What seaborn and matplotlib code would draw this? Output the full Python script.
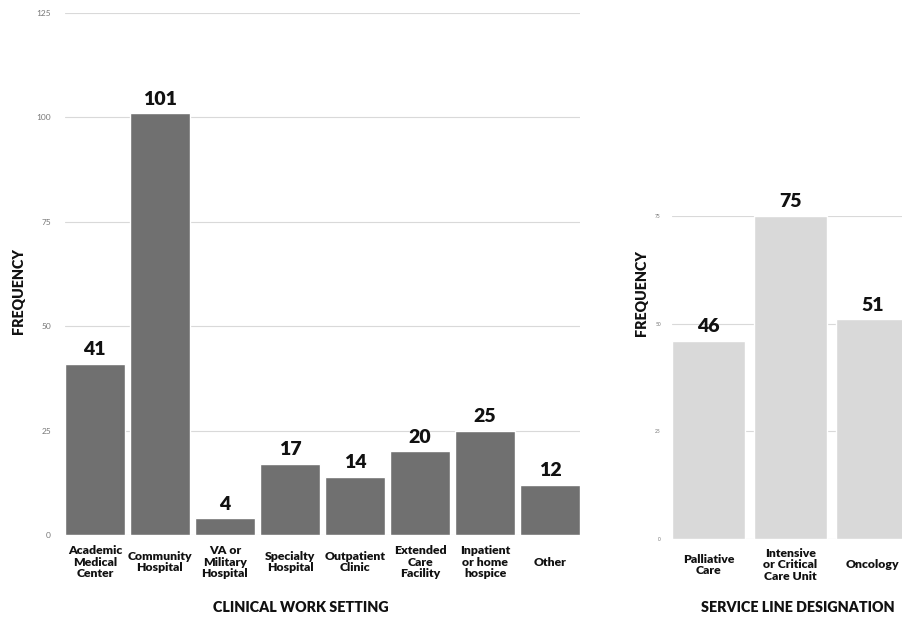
import matplotlib
matplotlib.use("Agg")
import matplotlib.pyplot as plt
import seaborn as sns
import pandas as pd

settings = ["Academic\nMedical\nCenter", "Community\nHospital", "VA or\nMilitary\nHospital",
            "Specialty\nHospital", "Outpatient\nClinic", "Extended\nCare\nFacility",
            "Inpatient\nor home\nhospice", "Other"]
setting_counts = [41, 101, 4, 17, 14, 20, 25, 12]

services = ["Palliative\nCare", "Intensive\nor Critical\nCare Unit", "Oncology"]
service_counts = [46, 75, 51]

left_ticks = [0, 25, 50, 75, 100, 125]
right_ticks = [0, 25, 50, 75]

sns.set_theme(style="white")
plt.rcParams['font.family'] = ['Lato', 'DejaVu Sans']
cond = ['Lato', 'DejaVu Sans']

fig = plt.figure(figsize=(9.02, 6.19), dpi=100)
ax1 = fig.add_axes([0.072, 0.1357, 0.571, 0.8434])
ax2 = fig.add_axes([0.745, 0.129, 0.255, 0.522])

df1 = pd.DataFrame({"setting": settings, "count": setting_counts})
df2 = pd.DataFrame({"service": services, "count": service_counts})

sns.barplot(data=df1, x="setting", y="count", color="#707070", saturation=1, width=0.92, ax=ax1, zorder=3)
sns.barplot(data=df2, x="service", y="count", color="#d9d9d9", saturation=1, width=0.89, ax=ax2, zorder=3)

for ax, ticks, xl, ylim, tfs, xpad in [(ax1, left_ticks, (-0.46, 7.46), (0, 125), 6, 19.5),
                                       (ax2, right_ticks, (-0.445, 2.36), (0, 75), 3.5, 18.5)]:
    ax.set_xlim(*xl)
    ax.set_ylim(*ylim)
    ax.set_yticks(ticks)
    ax.set_yticklabels([str(t) for t in ticks], fontsize=tfs, color="#777777")
    ax.grid(axis="y", color="#d9d9d9", linewidth=0.8, zorder=0)
    ax.grid(axis="x", visible=False)
    for s in ax.spines.values():
        s.set_visible(False)
    ax.tick_params(axis="y", length=0, pad=10 if ax is ax1 else 8)
    ax.tick_params(axis="x", length=0, pad=xpad)
    ax.set_xlabel("")
    ax.set_ylabel("")
    for lab in ax.get_xticklabels():
        lab.set_fontsize(8.8)
        lab.set_fontweight("heavy")
        lab.set_color("#111111")
        lab.set_linespacing(1.05)
        lab.set_verticalalignment("center")
    for c in ax.containers:
        ax.bar_label(c, labels=[str(int(v)) for v in c.datavalues], padding=4,
                     fontsize=14, fontweight="heavy", color="#111111", clip_on=False)

fig.text(0.021, 0.530, "FREQUENCY", rotation=90, ha="center", va="center",
         fontsize=10.3, fontweight="heavy", family=cond, color="#111111")
fig.text(0.711, 0.527, "FREQUENCY", rotation=90, ha="center", va="center",
         fontsize=10.3, fontweight="heavy", family=cond, color="#111111")
fig.text(0.333, 0.019, "CLINICAL WORK SETTING", ha="center", va="center",
         fontsize=10.3, fontweight="heavy", family=cond, color="#111111")
fig.text(0.8847, 0.019, "SERVICE LINE DESIGNATION", ha="center", va="center",
         fontsize=10.3, fontweight="heavy", family=cond, color="#111111")

fig.savefig("out.png", dpi=100)
